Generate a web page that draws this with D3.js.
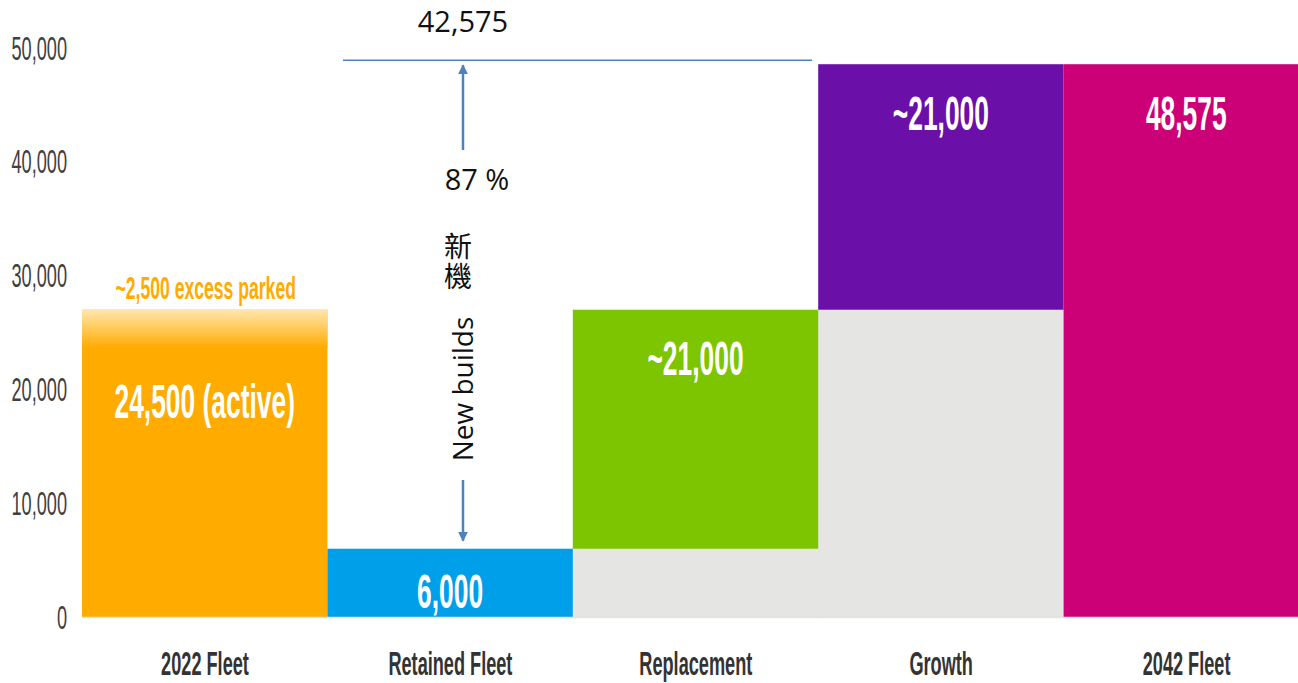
<!DOCTYPE html>
<html>
<head>
<meta charset="utf-8">
<script src="https://cdn.jsdelivr.net/npm/d3@7"></script>
<style>
  body { margin: 0; background: #fff; }
  svg { display: block; }
</style>
</head>
<body>
<div id="chart"></div>
<script>
// data
var categories = ["2022 Fleet", "Retained Fleet", "Replacement", "Growth", "2042 Fleet"];
var barBase = [0, 0, 6000, 27000, 0];
var barTop = [27000, 6000, 27000, 48575, 48575];
var greyBase = [0, 0, 6000, 27000, 0];   // grey filler under floating bars
var barLabels = ["24,500 (active)", "6,000", "~21,000", "~21,000", "48,575"];
var labelValues = [19000, 2300, 22700, 44300, 44300];
var activeFleet = 24500;
var parkedLabel = "~2,500 excess parked";
var yTicks = [0, 10000, 20000, 30000, 40000, 50000];
var newBuildsTotal = "42,575";
var newBuildsShare = "87 %";

var colors = ["#FFAB00", "#009FE9", "#7DC500", "#6A10A8", "#CC0077"];
var grey = "#E5E5E4";
var arrowBlue = "#4F81BD";
var squeeze = 0.55;   // the source lettering is a narrow face, squashed sideways

var width = 1298, height = 683;

var svg = d3.select("#chart").append("svg")
  .attr("width", width)
  .attr("height", height);

var x = d3.scaleBand().domain(categories).range([82, 1309]).padding(0);
var y = d3.scaleLinear().domain([0, 50000]).range([617, 48]);

//narrow text helper
var narrowText = function(sel, px, py) {
  return sel.attr("transform", "translate(" + px + "," + py + ") scale(" + squeeze + ",1)")
    .attr("dy", "0.35em")
    .attr("font-family", "'Liberation Sans', Arial, sans-serif");
};

var defs = svg.append("defs");
var grad = defs.append("linearGradient")
  .attr("id", "parked")
  .attr("x1", 0).attr("y1", 0).attr("x2", 0).attr("y2", 1);
grad.append("stop").attr("offset", "0%").attr("stop-color", "#FFE6AE");
grad.append("stop").attr("offset", "100%").attr("stop-color", colors[0]);

var marker = defs.append("marker")
  .attr("id", "head")
  .attr("viewBox", "0 0 10 10")
  .attr("refX", 9).attr("refY", 5)
  .attr("markerWidth", 4).attr("markerHeight", 5)
  .attr("markerUnits", "strokeWidth")
  .attr("orient", "auto");
marker.append("path").attr("d", "M0,0 L10,5 L0,10 Z").attr("fill", arrowBlue);

// y axis labels
yTicks.forEach(function(d) {
  narrowText(svg.append("text"), 67, y(d))
    .attr("text-anchor", "end")
    .attr("font-size", 33)
    .attr("fill", "#404040")
    .text(d3.format(",")(d));
});

// grey fillers
svg.selectAll("rect.grey")
  .data(categories)
  .enter().append("rect")
  .attr("class", "grey")
  .attr("x", function(d) { return x(d); })
  .attr("width", x.bandwidth())
  .attr("y", function(d, i) { return y(greyBase[i]); })
  .attr("height", function(d, i) { return y(0) - y(greyBase[i]); })
  .attr("fill", grey)
  .attr("stroke", "#DDDDDD")
  .attr("stroke-width", 0.5);

// main bars
svg.selectAll("rect.bar")
  .data(categories)
  .enter().append("rect")
  .attr("class", "bar")
  .attr("x", function(d) { return x(d); })
  .attr("width", x.bandwidth())
  .attr("y", function(d, i) { return y(barTop[i]); })
  .attr("height", function(d, i) { return y(barBase[i]) - y(barTop[i]); })
  .attr("fill", function(d, i) { return colors[i]; });

// parked part of the 2022 fleet, faded
svg.append("rect")
  .attr("x", x(categories[0]))
  .attr("width", x.bandwidth())
  .attr("y", y(barTop[0]))
  .attr("height", y(activeFleet) - y(barTop[0]) + 10)
  .attr("fill", "url(#parked)");

// baseline
svg.append("line")
  .attr("x1", 82).attr("x2", width)
  .attr("y1", y(0) + 0.5).attr("y2", y(0) + 0.5)
  .attr("stroke", "#E3E3E3")
  .attr("stroke-width", 1.5);

// bar labels
categories.forEach(function(d, i) {
  narrowText(svg.append("text"), x(d) + x.bandwidth() / 2, y(labelValues[i]))
    .attr("text-anchor", "middle")
    .attr("font-weight", "bold")
    .attr("font-size", 48)
    .attr("fill", "#fff")
    .text(barLabels[i]);
});

narrowText(svg.append("text"), x(categories[0]) + x.bandwidth() / 2 + 1, y(barTop[0]) - 22)
  .attr("text-anchor", "middle")
  .attr("font-weight", "bold")
  .attr("font-size", 32)
  .attr("fill", colors[0])
  .text(parkedLabel);

// category labels
categories.forEach(function(d) {
  narrowText(svg.append("text"), x(d) + 123, 663)
    .attr("text-anchor", "middle")
    .attr("font-weight", "bold")
    .attr("font-size", 33)
    .attr("fill", "#333")
    .text(d);
});

// new builds annotation
var ax = 463;
var lineY = y(barTop[4]) - 4;
svg.append("line")
  .attr("x1", 343).attr("x2", 812)
  .attr("y1", lineY).attr("y2", lineY)
  .attr("stroke", arrowBlue)
  .attr("stroke-width", 1.5);

svg.append("line")
  .attr("x1", ax).attr("x2", ax)
  .attr("y1", 150).attr("y2", lineY + 5)
  .attr("stroke", arrowBlue)
  .attr("stroke-width", 2.5)
  .attr("marker-end", "url(#head)");

svg.append("line")
  .attr("x1", ax).attr("x2", ax)
  .attr("y1", 480).attr("y2", y(barTop[1]) - 8)
  .attr("stroke", arrowBlue)
  .attr("stroke-width", 2.5)
  .attr("marker-end", "url(#head)");

var anno = "'Open Sans', 'Noto Sans', sans-serif";
svg.append("text")
  .attr("x", ax).attr("y", 22).attr("dy", "0.35em")
  .attr("text-anchor", "middle")
  .attr("font-family", anno).attr("font-size", 29).attr("fill", "#111")
  .text(newBuildsTotal);

svg.append("text")
  .attr("x", 477).attr("y", 180).attr("dy", "0.35em")
  .attr("text-anchor", "middle")
  .attr("font-family", anno).attr("font-size", 29).attr("fill", "#111")
  .text(newBuildsShare);

svg.append("text")
  .attr("x", 458).attr("y", 232)
  .attr("style", "writing-mode: vertical-rl; letter-spacing: 2px")
  .attr("font-family", "'Noto Sans CJK TC', sans-serif")
  .attr("font-size", 28)
  .attr("fill", "#111")
  .text("新機");

svg.append("text")
  .attr("transform", "translate(" + 463 + "," + 389 + ") rotate(-90)")
  .attr("dy", "0.35em")
  .attr("text-anchor", "middle")
  .attr("font-family", anno).attr("font-size", 28).attr("fill", "#111")
  .text("New builds");
</script>
</body>
</html>
